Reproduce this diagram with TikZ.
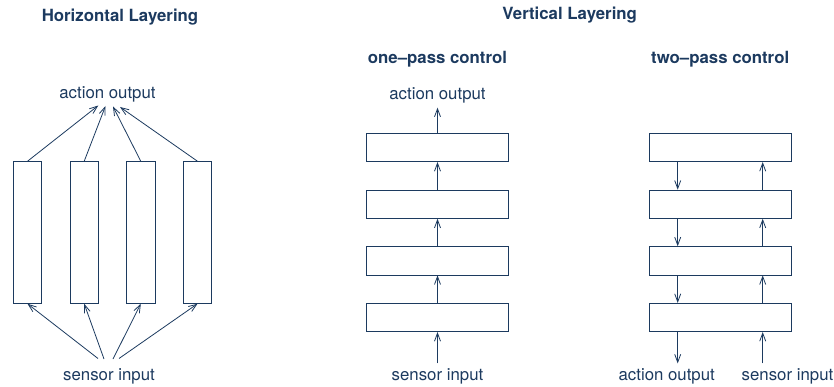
\documentclass[tikz,border=0pt]{standalone}
\usepackage{fontspec}
\setmainfont{TeX Gyre Heros}
\usetikzlibrary{arrows.meta}
\definecolor{ink}{RGB}{28,58,95}
\begin{document}
\begin{tikzpicture}[x=1pt,y=-1pt,
  every node/.style={text=ink},
  lbl/.style={font=\fontsize{16.8}{20}\selectfont, inner xsep=0pt, inner ysep=4.5pt, anchor=base},
  ttl/.style={font=\fontsize{16.8}{20}\selectfont\bfseries, inner sep=0pt, anchor=base},
  hbox/.style={draw=ink, line width=0.8pt, minimum width=28.3pt, minimum height=141.7pt, inner sep=0pt},
  vbox/.style={draw=ink, line width=0.8pt, minimum width=141.7pt, minimum height=28.3pt, inner sep=0pt},
  arr/.style={draw=ink, line width=0.8pt, -{Straight Barb[length=8pt,width=6pt]}}
]
\useasboundingbox (0,0) rectangle (834,387);

% ---------- Horizontal layering ----------
\node[ttl] (th) at (120,21.5) {Horizontal Layering};
\node[lbl] (hao) at (107.5,99) {action output};
\node[lbl] (hsi) at (109,380.5) {sensor input};
\node[hbox] (h1) at (27.5,232.5) {};
\node[hbox] (h2) at (84.2,232.5) {};
\node[hbox] (h3) at (140.8,232.5) {};
\node[hbox] (h4) at (197.5,232.5) {};
\coordinate (a1) at (98.3,105.5);
\coordinate (a2) at (105.5,106);
\coordinate (a3) at (113,106.5);
\coordinate (a4) at (120,107);
\coordinate (s1) at (98,358.5);
\coordinate (s2) at (104,359);
\coordinate (s3) at (113,359);
\coordinate (s4) at (119,358.5);
\draw[arr] (h1.north) -- (a1);
\draw[arr] (h2.north) -- (a2);
\draw[arr] (h3.north) -- (a3);
\draw[arr] (h4.north) -- (a4);
\draw[arr] (s1) -- (h1.south);
\draw[arr] (s2) -- (h2.south);
\draw[arr] (s3) -- (h3.south);
\draw[arr] (s4) -- (h4.south);

% ---------- Vertical layering ----------
\node[ttl] (tv) at (569.7,20) {Vertical Layering};

% one-pass
\node[ttl] (t1) at (437.5,63.3) {one–pass control};
\node[vbox] (v1) at (437.5,147.5) {};
\node[vbox] (v2) at (437.5,204.2) {};
\node[vbox] (v3) at (437.5,260.8) {};
\node[vbox] (v4) at (437.5,317.5) {};
\node[lbl] (vao) at (437.5,99.3) {action output};
\node[lbl] (vsi) at (437.5,380) {sensor input};
\draw[arr] (vsi.north) -- (v4.south);
\draw[arr] (v4.north) -- (v3.south);
\draw[arr] (v3.north) -- (v2.south);
\draw[arr] (v2.north) -- (v1.south);
\draw[arr] (v1.north) -- (vao.south);

% two-pass
\node[ttl] (t2) at (720.2,63.3) {two–pass control};
\node[vbox] (w1) at (720.2,147.5) {};
\node[vbox] (w2) at (720.2,204.2) {};
\node[vbox] (w3) at (720.2,260.8) {};
\node[vbox] (w4) at (720.2,317.5) {};
\node[lbl] (wao) at (666.7,380) {action output};
\node[lbl] (wsi) at (787.5,380) {sensor input};
\coordinate (dx) at (677.7,0);
\coordinate (ux) at (762.7,0);
\draw[arr] (w1.south -| dx) -- (w2.north -| dx);
\draw[arr] (w2.south -| dx) -- (w3.north -| dx);
\draw[arr] (w3.south -| dx) -- (w4.north -| dx);
\draw[arr] (w4.south -| dx) -- (dx |- wao.north);
\draw[arr] (ux |- wsi.north) -- (w4.south -| ux);
\draw[arr] (w4.north -| ux) -- (w3.south -| ux);
\draw[arr] (w3.north -| ux) -- (w2.south -| ux);
\draw[arr] (w2.north -| ux) -- (w1.south -| ux);
\end{tikzpicture}
\end{document}
